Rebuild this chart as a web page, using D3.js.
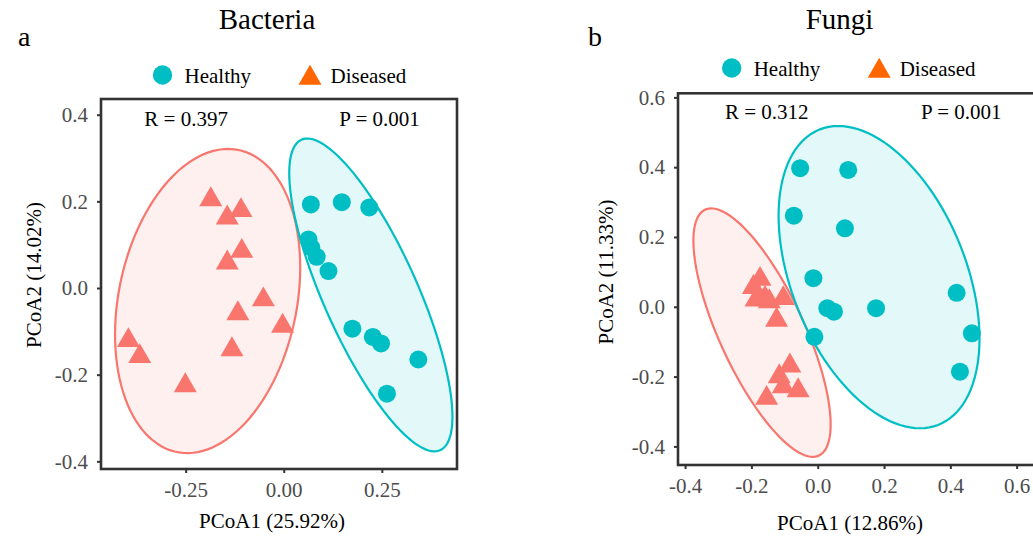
<!DOCTYPE html>
<html>
<head>
<meta charset="utf-8">
<script src="https://cdn.jsdelivr.net/npm/d3@7"></script>
<style>
  body { margin: 0; background: #fff; }
  text { font-family: "Liberation Serif", "Times New Roman", serif; }
</style>
</head>
<body>
<div class="chart"></div>
<script>

// data
var groups = ["Healthy", "Diseased"];

var bactHealthyX = [0.069, 0.148, 0.218, 0.063, 0.070, 0.084, 0.114, 0.175, 0.227, 0.248, 0.343, 0.263];
var bactHealthyY = [0.193, 0.198, 0.186, 0.112, 0.094, 0.072, 0.039, -0.094, -0.113, -0.128, -0.165, -0.244];
var bactDiseasedX = [-0.186, -0.144, -0.109, -0.107, -0.144, -0.052, -0.117, -0.003, -0.396, -0.367, -0.132, -0.251];
var bactDiseasedY = [0.204, 0.162, 0.179, 0.085, 0.058, -0.027, -0.059, -0.088, -0.121, -0.158, -0.142, -0.225];

var fungiHealthyX = [-0.053, 0.092, -0.072, 0.082, -0.013, 0.029, 0.049, 0.176, 0.419, 0.465, 0.429, -0.010];
var fungiHealthyY = [0.397, 0.392, 0.261, 0.225, 0.082, -0.004, -0.014, -0.004, 0.040, -0.076, -0.186, -0.086];
var fungiDiseasedX = [-0.174, -0.194, -0.186, -0.159, -0.146, -0.104, -0.124, -0.084, -0.116, -0.059, -0.104, -0.154];
var fungiDiseasedY = [0.079, 0.056, 0.020, 0.025, 0.015, 0.024, -0.038, -0.169, -0.200, -0.240, -0.229, -0.262];

// ellipses: centre x, centre y, half width, half height, x shift of the top point
var bactEllipseHealthy = [0.222, -0.016, 0.208, 0.361, -0.162];
var bactEllipseDiseased = [-0.194, -0.030, 0.236, 0.351, 0.052];
var fungiEllipseHealthy = [0.185, 0.085, 0.303, 0.433, -0.123];
var fungiEllipseDiseased = [-0.168, -0.074, 0.207, 0.356, -0.153];

var bactTicksX = [-0.25, 0, 0.25];
var bactTicksY = [-0.4, -0.2, 0, 0.2, 0.4];
var fungiTicksX = [-0.4, -0.2, 0, 0.2, 0.4, 0.6];
var fungiTicksY = [-0.4, -0.2, 0, 0.2, 0.4, 0.6];

var titles = ["Bacteria", "Fungi"];
var panelTags = ["a", "b"];
var statR = ["R = 0.397", "R = 0.312"];
var statP = ["P = 0.001", "P = 0.001"];
var xTitles = ["PCoA1 (25.92%)", "PCoA1 (12.86%)"];
var yTitles = ["PCoA2 (14.02%)", "PCoA2 (11.33%)"];

var colHealthy = "#00BFC4",
    colDiseased = "#F8766D",
    colLegendDiseased = "#FF6600";

var serif = "'Liberation Serif', 'Times New Roman', serif";

var svg = d3.select(".chart").append("svg")
    .attr("width", 1033)
    .attr("height", 539);

var tri = d3.symbol().type(d3.symbolTriangle).size(229);

// gewone min-teken, zoals in R
function fmt(spec) {
  var f = d3.format(spec);
  return function(d) { return f(d).replace("\u2212", "-"); };
}

// punten op de ellips
function ellipsePoints(e) {
  var r = e[4] * e[3] / e[2];
  var s = Math.sqrt(e[3] * e[3] - r * r);
  return d3.range(0, 361, 3).map(function(a) {
    var t = a * Math.PI / 180;
    return [e[0] + e[2] * Math.cos(t), e[1] + r * Math.cos(t) + s * Math.sin(t)];
  });
}

function drawPanel(p) {
  var x = d3.scaleLinear().domain(p.xDomain).range([p.left, p.right]);
  var y = d3.scaleLinear().domain(p.yDomain).range([p.bottom, p.top]);

  var g = svg.append("g");

  // titel en label
  g.append("text")
    .attr("x", p.titleX).attr("y", 29)
    .attr("text-anchor", "middle")
    .style("font-size", "29px")
    .text(titles[p.i]);

  g.append("text")
    .attr("x", p.tagX).attr("y", 46)
    .style("font-size", "28px")
    .text(panelTags[p.i]);

  // legenda
  g.append("circle")
    .attr("cx", p.legX).attr("cy", p.legY)
    .attr("r", 9.7)
    .attr("fill", colHealthy);
  g.append("text")
    .attr("x", p.legX + 22).attr("y", p.legY + 8)
    .style("font-size", "21px")
    .text(groups[0]);
  g.append("path")
    .attr("d", tri)
    .attr("transform", "translate(" + (p.legX + 147.5) + "," + (p.legY + 3) + ")")
    .attr("fill", colLegendDiseased);
  g.append("text")
    .attr("x", p.legX + 168).attr("y", p.legY + 8)
    .style("font-size", "21px")
    .text(groups[1]);

  // ellipsen
  var line = d3.line()
    .x(function(d) { return x(d[0]); })
    .y(function(d) { return y(d[1]); });

  [[p.ellD, colDiseased], [p.ellH, colHealthy]].forEach(function(e) {
    g.append("path")
      .datum(ellipsePoints(e[0]))
      .attr("d", line)
      .attr("fill", e[1])
      .attr("fill-opacity", 0.11)
      .attr("stroke", e[1])
      .attr("stroke-width", 2.2);
  });

  // punten
  g.selectAll(".healthy")
    .data(p.hx)
  .enter().append("circle")
    .attr("cx", function(d) { return x(d); })
    .attr("cy", function(d, i) { return y(p.hy[i]); })
    .attr("r", 9)
    .attr("fill", colHealthy);

  g.selectAll(".diseased")
    .data(p.dx)
  .enter().append("path")
    .attr("d", tri)
    .attr("transform", function(d, i) {
      return "translate(" + x(d) + "," + y(p.dy[i]) + ")";
    })
    .attr("fill", colDiseased);

  // assen
  var xAxis = d3.axisBottom(x)
    .tickValues(p.xTicks)
    .tickSize(4)
    .tickPadding(9)
    .tickFormat(fmt(p.xFormat));

  var yAxis = d3.axisLeft(y)
    .tickValues(p.yTicks)
    .tickSize(4)
    .tickPadding(9)
    .tickFormat(fmt(".1f"));

  var ax = g.append("g")
    .attr("transform", "translate(0," + p.bottom + ")")
    .call(xAxis);
  var ay = g.append("g")
    .attr("transform", "translate(" + p.left + ",0)")
    .call(yAxis);

  [ax, ay].forEach(function(a) {
    a.attr("font-family", serif).attr("font-size", 21);
    a.select(".domain").remove();
    a.selectAll("line").attr("stroke", "#333").attr("stroke-width", 2);
    a.selectAll("text")
      .attr("fill", "#4D4D4D")
      .style("font-size", "21px")
      .style("font-family", serif);
  });

  // kader
  g.append("rect")
    .attr("x", p.left).attr("y", p.top)
    .attr("width", p.right - p.left)
    .attr("height", p.bottom - p.top)
    .attr("fill", "none")
    .attr("stroke", "#333")
    .attr("stroke-width", 2.6);

  // statistiek
  g.append("text")
    .attr("x", p.rX).attr("y", p.statY)
    .style("font-size", "21px")
    .text(statR[p.i]);
  g.append("text")
    .attr("x", p.pX).attr("y", p.statY)
    .style("font-size", "21px")
    .text(statP[p.i]);

  // as titels
  g.append("text")
    .attr("x", p.xTitleX).attr("y", p.xTitleY)
    .attr("text-anchor", "middle")
    .style("font-size", "21px")
    .text(xTitles[p.i]);
  g.append("text")
    .attr("transform", "translate(" + p.yTitleX + "," + p.yTitleY + ") rotate(-90)")
    .attr("text-anchor", "middle")
    .style("font-size", "21px")
    .text(yTitles[p.i]);
}

drawPanel({
  i: 0,
  left: 101, right: 457, top: 99, bottom: 469,
  xDomain: [-0.4658, 0.4416], yDomain: [-0.4177, 0.4362],
  hx: bactHealthyX, hy: bactHealthyY, dx: bactDiseasedX, dy: bactDiseasedY,
  ellH: bactEllipseHealthy, ellD: bactEllipseDiseased,
  xTicks: bactTicksX, yTicks: bactTicksY, xFormat: ".2f",
  titleX: 267, tagX: 18,
  legX: 162.5, legY: 75,
  rX: 144.3, pX: 339.3, statY: 126,
  xTitleX: 272, xTitleY: 528, yTitleX: 41, yTitleY: 275
});

drawPanel({
  i: 1,
  left: 678, right: 1049.8, top: 93.3, bottom: 465,
  xDomain: [-0.4214, 0.7], yDomain: [-0.4533, 0.6117],
  hx: fungiHealthyX, hy: fungiHealthyY, dx: fungiDiseasedX, dy: fungiDiseasedY,
  ellH: fungiEllipseHealthy, ellD: fungiEllipseDiseased,
  xTicks: fungiTicksX, yTicks: fungiTicksY, xFormat: ".1f",
  titleX: 839.5, tagX: 588,
  legX: 731.7, legY: 68,
  rX: 725, pX: 921, statY: 119,
  xTitleX: 850, xTitleY: 530, yTitleX: 613, yTitleY: 272
});

</script>
</body>
</html>
